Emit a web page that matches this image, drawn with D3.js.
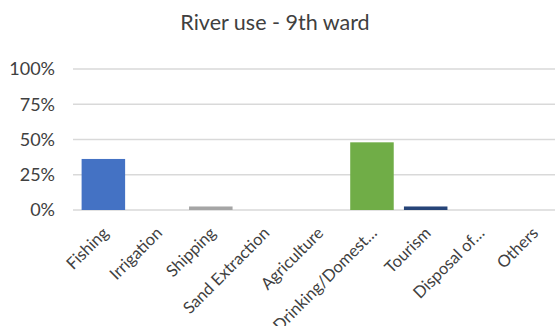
<!DOCTYPE html>
<html>
<head>
<meta charset="utf-8">
<script src="https://cdn.jsdelivr.net/npm/d3@7"></script>
<style>
  body { margin: 0; background: #fff; }
  text { font-family: Lato, "Open Sans", sans-serif; fill: #404040; }
</style>
</head>
<body>
<div id="wrapper"></div>
<script>
  // data
  const categories = ["Fishing", "Irrigation", "Shipping", "Sand Extraction", "Agriculture",
    "Drinking/Domest…", "Tourism", "Disposal of…", "Others"]
  const values = [0.362, 0, 0.025, 0, 0, 0.48, 0.025, 0, 0]
  const barColors = ["#4472C4", "#ED7D31", "#A5A5A5", "#FFC000", "#5B9BD5",
    "#70AD47", "#264478", "#9E480E", "#636363"]
  const yTicks = [0, 0.25, 0.5, 0.75, 1]
  const title = "River use - 9th ward"

  const width = 555
  const height = 326

  const svg = d3.select("#wrapper")
    .append("svg")
      .attr("width", width)
      .attr("height", height)

  const x = d3.scaleBand()
      .domain(categories)
      .range([76.5, 560])
      .paddingInner(0.19)
      .paddingOuter(0.095)

  const y = d3.scaleLinear()
      .domain([0, 1])
      .range([210, 69])

  // gridlines
  svg.append("g")
    .selectAll("line")
    .data(yTicks)
    .enter().append("line")
      .attr("x1", 73)
      .attr("x2", width)
      .attr("y1", d => y(d))
      .attr("y2", d => y(d))
      .attr("stroke", "#d9d9d9")
      .attr("stroke-width", 1.5)

  // y labels
  svg.append("g")
    .selectAll("text")
    .data(yTicks)
    .enter().append("text")
      .attr("x", 55)
      .attr("y", d => y(d))
      .attr("dy", "0.35em")
      .attr("text-anchor", "end")
      .style("font-size", "18px")
      .text(d3.format(".0%"))

  // bars
  svg.append("g")
    .selectAll("rect")
    .data(values)
    .enter().append("rect")
      .attr("x", (d, i) => x(categories[i]))
      .attr("width", x.bandwidth())
      .attr("y", d => y(d))
      .attr("height", d => y(0) - y(d))
      .attr("fill", (d, i) => barColors[i])

  // x labels
  svg.append("g")
    .selectAll("text")
    .data(categories)
    .enter().append("text")
      .attr("transform", d => `translate(${x(d) + x.bandwidth() / 2 + 2}, 230) rotate(-45)`)
      .attr("dy", "0.35em")
      .attr("text-anchor", "end")
      .style("font-size", "16.5px")
      .text(d => d)

  svg.append("text")
      .attr("x", 275)
      .attr("y", 30)
      .attr("text-anchor", "middle")
      .style("font-size", "21.5px")
      .text(title)
</script>
</body>
</html>
